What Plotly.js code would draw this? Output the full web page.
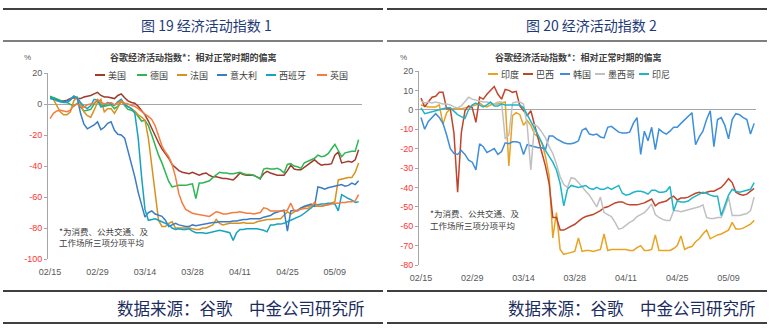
<!DOCTYPE html>
<html><head><meta charset="utf-8">
<script src="https://cdn.plot.ly/plotly-3.0.1.min.js"></script>
<style>html,body{margin:0;padding:0;background:#fff}#chart{width:770px;height:333px}</style>
</head><body><div id="chart"></div>
<script>
// ---------- data ----------
const tickDays = [0, 14, 28, 42, 56, 70, 84];
const tickLabels = ['02/15', '02/29', '03/14', '03/28', '04/11', '04/25', '05/09'];
const leftYTicks = [20, 0, -20, -40, -60, -80, -100];
const rightYTicks = [20, 10, 0, -10, -20, -30, -40, -50, -60, -70, -80];

// left panel: 谷歌经济活动指数 1
const leftNames = ['美国', '德国', '法国', '意大利', '西班牙', '英国'];
const usa = [4,4,3,2,2,2.5,3.5,4,3.5,3.5, 4.5,5,5.5,6.5,7.5,5.5,4.5,4.5,4,3.5, 5.5,6.5,4,2,1,0.5,-1.5,-4,-7,-11,
  -16,-21,-25,-29,-32,-35,-39,-41,-43,-44, -44.5,-45,-44,-45,-46,-45,-44.5,-46,-47,-47, -47.5,-48,-48,-48.5,-49,-47,-44.5,-45.5,-46,-46,
  -46,-47,-48,-45,-43.5,-44.5,-45.5,-46,-46,-46, -43,-39.5,-42,-42.5,-42.5,-41,-39.5,-38,-36,-38, -39.5,-39,-39,-38.5,-33,-31,-38,-37.5,-37,-37.5, -36,-29.5];
const germany = [5,4,3,2,1.5,1,0,-1.5,0.5,-2, -4.5,-4,-3.5,0,2.5,-0.5,-1.5,-1,-0.5,-3, -1.5,2.5,-1,-3.5,-4,-5,-8,-11,-10.5,-14,
  -20,-27,-33,-38,-44,-50,-53.5,-53,-52.5,-52.5, -52.5,-52,-51.5,-61,-51,-51,-50,-49.5,-47.5,-46, -44,-44.5,-44.5,-45,-45,-44.5,-44,-45,-45.5,-45.5,
  -46,-47,-48.5,-42,-41.5,-42,-42,-41.5,-42.5,-44.5, -39,-38.5,-40,-40.5,-41.5,-38,-37,-36,-35,-33, -34,-33.5,-32,-29,-26,-30,-34,-31.5,-31,-30.5, -30.5,-23];
const france = [4,3,-1,-5,-7,-7,-5,2,4.5,0, -5,-7.5,-8.5,-4,1,3,-5,-3,-3,-6, -2,1.5,-0.5,-1.5,-3,-4.5,-7,-8.5,-10.5,-22,
  -40,-61,-75,-79,-79,-77,-76,-80,-80,-80, -80,-80,-80.5,-81,-81,-80,-80,-79,-78,-74.5, -77,-78,-77.5,-77,-77,-77,-77,-76.5,-77,-77,
  -77,-76,-75.5,-75,-74.5,-74.5,-74,-74,-74,-72, -69.5,-71,-69.5,-68.5,-67,-66.5,-66,-65.5,-66,-66, -66,-65.5,-65,-64,-63,-49,-48.5,-48,-47.5,-47.5, -44,-38];
const italy = [3.5,3,2.5,1.5,1.5,2,3,5,4,-6, -13,-16,-15,-13.5,-11.5,-16.5,-15,-12.5,-11.5,-17, -19.5,-20,-22,-30,-38,-47,-57,-65,-73,-70,
  -69,-71,-72,-72.5,-75,-79,-78,-77,-78,-78.5, -79,-79,-78,-78.5,-78,-78,-77.5,-77,-76.5,-76.5, -76,-76,-76,-76,-75.5,-75.5,-75,-74.5,-74.5,-74,
  -74,-74,-74,-73,-72.5,-72,-70.5,-69.5,-69,-68.5, -82,-69,-68.5,-69,-67,-66,-65,-64.5,-66,-53.5, -54,-55,-54,-53.5,-53,-52.5,-52,-53,-52.5,-51, -52,-49.5];
const spain = [4,3.5,2,1.5,1,1,2.5,5,4,1, -1.5,-3,-1,3,2.5,-2,-1,1,0,-1, 1.5,3,-0.5,-2,-3,-6,-22,-47,-68,-75,
  -74.5,-74,-75,-76,-77,-78,-80,-81,-80.5,-81, -81,-80.5,-82,-83,-83,-83,-83.5,-83,-82.5,-82, -81.5,-82,-82.5,-83,-88,-83,-81,-81,-80.5,-80.5,
  -80.5,-80.5,-81,-81.5,-82.5,-78,-78,-77.5,-77.5,-77, -76,-75,-74,-73.5,-72,-70.5,-69,-67,-65,-65, -64.5,-64.5,-64,-64,-64.5,-69,-58.5,-60,-61,-62, -63.5,-63];
const uk = [-9.5,-6,-4.5,-4,-4.5,-5,-4,-1,0,-1.5, -2,-0.5,0,0.5,3,1,0,0.5,1,-0.5, 0.5,2,0.5,0,-1,-1.5,-3,-5,-6.5,-8,
  -10,-14,-21,-27,-31,-34,-39,-47,-58,-64, -68,-69.5,-70.5,-71,-71.5,-72,-72,-72.5,-71,-69.5, -70,-71,-71,-70.5,-70,-70,-69.5,-70,-70.5,-70.5,
  -71,-70.5,-70,-67,-67.5,-69,-69,-69,-69,-69, -68.5,-64,-69,-68.5,-68,-67.5,-67.5,-66,-63.5,-66, -66,-65.5,-65,-64.5,-64,-64,-63.5,-63.5,-63,-63, -62.5,-58.5];

// right panel: 谷歌经济活动指数 2
const rightNames = ['印度', '巴西', '韩国', '墨西哥', '印尼'];
const india = [2.5,2,1.5,1.5,1.5,2.5,-7.5,-1.5,0.5,0.5, 0.5,0.5,1,1.5,2,2.5,3.5,2,1.5,2.5, 3,3,3.5,4,-29,-3,-1.5,-2.5,-8,-5.5,
  -8,-12.5,-14,-17,-24,-34,-66,-53,-72,-74.5, -74,-73.5,-73,-66,-73,-72.5,-72.5,-73,-72.5,-72, -64,-72.5,-72,-72,-72,-72,-72,-72.5,-72.5,-71,
  -70,-72.5,-72.5,-72,-64.5,-72.5,-72.5,-72.5,-72.5,-71.5, -70,-65,-72,-71,-70.5,-68,-66.5,-64,-62,-66.5, -65.5,-64.5,-64,-63,-62,-58,-61.5,-61.5,-61,-60, -59,-57];
const brazil = [6,1.5,4,6.5,7,9,9,0.5,0.5,-12, -42.5,-12,-0.5,2,1,-6.5,6.5,5.5,8,10, 12,8,5.5,10.5,10,9,9.5,2,-0.5,-3,
  -0.5,-8,-16,-22,-29,-38,-55.5,-55.5,-62,-62, -61,-60,-59,-57.5,-56,-55,-54.5,-54,-53,-52, -50.5,-50,-49,-48,-47.5,-47.5,-48.5,-49,-49,-49,
  -48.5,-48,-47,-46,-49.5,-48,-47.5,-47,-45.5,-44.5, -46.5,-45.5,-45.5,-45,-44,-43,-42.5,-43,-42.5,-42, -42,-41,-40,-38,-35.5,-37.5,-42.5,-43.5,-44,-43.5, -42,-40.5];
const korea = [-4,-10,-6,-4,-2,-4,-7,-13,-20,-22.5, -23,-21,-23,-26,-27,-31,-17.5,-19,-22,-21, -20,-23,-21.5,-17,-17.5,-16.5,-16.5,-17,-23,-18,
  -18.5,-19,-19.5,-19.5,-20.5,-13.5,-13.5,-15,-16,-17, -17.5,-17.5,-17,-16,-10.5,-9.5,-12.5,-13,-12.5,-14, -14.5,-9,-8.5,-10,-11.5,-12,-12,-11.5,-7,-4,
  -23,-11,-16,-9,-20.5,-10,-11.5,-12.5,-11,-9, -9,-7,-5,-3,-1.5,-18,-14,-11,-5,-0.5, -19,-5,-4,-8,-15,-5,-2,-2.5,-4,-5, -12.5,-7];
const mexico = [4.5,3.5,4,3.5,4,3.5,3,3,2.5,1.5, 1,2,4,6.5,5.5,5,4.5,4,4,3.5, 3,4,4,-15,-13,3.5,4,4,3,-8,
  -31,-7.5,-9,-11.5,-14.5,-19,-22.5,-28,-34.5,-38.5, -40,-35,-35.5,-37.5,-40,-42,-44,-47,-50,-45, -53,-54,-55,-58,-61.5,-61,-59.5,-58,-57,-55,
  -54,-53,-51,-48.5,-54,-55.5,-56.5,-57,-57,-52, -52,-52.5,-52,-51.5,-51,-50.5,-50,-49,-55.5,-56, -56,-55.5,-55.5,-51,-45,-54.5,-54.5,-54.5,-54,-53.5, -52,-45];
const indonesia = [1,-2,-1.5,-1,-0.5,0,0.5,1,1,-1, -2.5,-3.5,-4.5,0,2.5,3.5,2.5,1.5,2.5,4, 2,2,3,2.5,2.5,2.5,2.5,2.5,1,-2.5,
  -5.5,-9,-13,-17,-21,-24,-27,-31,-38,-49.5, -41,-39,-39.5,-40,-39.5,-39,-40.5,-41,-40,-41, -41,-40,-41,-40,-39,-43,-44,-43.5,-42.5,-42,
  -42,-42.5,-43.5,-41.5,-41.5,-42.5,-42.5,-42,-39.5,-52, -47,-47.5,-47.5,-47,-45.5,-44.5,-43.5,-42.5,-43,-44, -44.5,-44.5,-54.5,-49,-44,-41,-42,-42.5,-42,-41.5, -41,-37.5];

// ---------- styling ----------
const leftSeries = [usa, germany, france, italy, spain, uk];
const leftColors = ['#A23A2C', '#2DB652', '#D6921F', '#3B7CC6', '#17A3C0', '#F47C3E'];
const rightSeries = [india, brazil, korea, mexico, indonesia];
const rightColors = ['#E9A221', '#C0452B', '#3D8EDB', '#C0C0C0', '#1EB5C8'];

const W = 770, H = 333;
const P = px => px / W;
const Q = py => 1 - py / H;
const cjk = '"Noto Sans CJK SC", sans-serif';
const latin = '"Liberation Sans", Arial, sans-serif';

const traces = [];
leftSeries.forEach((s, i) => traces.push({
  x: s.map((_, k) => k), y: s, type: 'scatter', mode: 'lines', name: leftNames[i],
  xaxis: 'x', yaxis: 'y', line: {color: leftColors[i], width: 1.5}, hoverinfo: 'skip'
}));
rightSeries.forEach((s, i) => traces.push({
  x: s.map((_, k) => k), y: s, type: 'scatter', mode: 'lines', name: rightNames[i],
  xaxis: 'x2', yaxis: 'y2', line: {color: rightColors[i], width: 1.5}, hoverinfo: 'skip'
}));

const yText = v => v < 0 ? `<span style="color:#FF3333">${v}</span>` : `${v}`;
const tickFont = {family: latin, size: 9, color: '#595959'};
const xAxisBase = {
  tickvals: tickDays, ticktext: tickLabels, showgrid: false, zeroline: false, showline: false,
  ticks: 'outside', ticklen: 4, tickcolor: 'rgba(0,0,0,0)', tickfont: tickFont, fixedrange: true
};
const yAxisBase = {
  showgrid: false, zeroline: true, zerolinecolor: '#A6A6A6', zerolinewidth: 1,
  showline: true, linecolor: '#A6A6A6', linewidth: 1, ticks: 'outside', ticklen: 3,
  tickcolor: '#A6A6A6', tickfont: tickFont, fixedrange: true
};

const shapes = [];
const rule = (x0, x1, y, w) => shapes.push({type: 'line', xref: 'paper', yref: 'paper',
  x0: P(x0), x1: P(x1), y0: Q(y), y1: Q(y), line: {color: '#000', width: w}});
rule(3, 383, 9, 1.6); rule(387, 767, 9, 1.6);
rule(3, 383, 41, 1.2); rule(387, 767, 41, 1.2);
rule(3, 383, 291, 1.3); rule(387, 767, 291, 1.3);
rule(3, 383, 323, 1.3); rule(387, 767, 323, 1.3);

const annotations = [];
const note = (text, x, y, font, xanchor) => annotations.push({text, x: P(x), y: Q(y), xref: 'paper', yref: 'paper',
  xanchor: xanchor || 'center', yanchor: 'middle', showarrow: false, font, align: 'left'});

// panel titles and sources
const titleFont = {family: cjk, size: 14, color: '#1F3A78'};
note('图 19 经济活动指数 1', 207, 25, titleFont);
note('图 20 经济活动指数 2', 591, 25, titleFont);
const srcFont = {family: cjk, size: 16.5, color: '#1B2C5E'};
note('数据来源：谷歌　中金公司研究所', 367, 308, srcFont, 'right');
note('数据来源：谷歌　中金公司研究所', 758, 308, srcFont, 'right');

// chart titles
const chartTitleFont = {family: cjk, size: 9, color: '#404040', weight: 'bold'};
note('<b>谷歌经济活动指数*：相对正常时期的偏离</b>', 194, 57, chartTitleFont);
note('<b>谷歌经济活动指数*：相对正常时期的偏离</b>', 578, 57, chartTitleFont);
const pctFont = {family: latin, size: 8, color: '#595959'};
note('%', 27, 58, pctFont);
note('%', 404, 58, pctFont);

// footnotes
const fnFont = {family: cjk, size: 8.5, color: '#404040'};
note('*为消费、公共交通、及', 57, 231, fnFont, 'left');
note('工作场所三项分项平均', 57, 242, fnFont, 'left');
note('*为消费、公共交通、及', 428, 213, fnFont, 'left');
note('工作场所三项分项平均', 428, 225, fnFont, 'left');

// legends (keys drawn as short lines)
const legFont = {family: cjk, size: 9, color: '#404040'};
const leftLegX = [95, 137, 177, 217, 266, 317];
const rightLegX = [488, 523, 560, 595, 639];
leftNames.forEach((n, i) => {
  shapes.push({type: 'line', xref: 'paper', yref: 'paper', x0: P(leftLegX[i]), x1: P(leftLegX[i] + 10),
    y0: Q(75), y1: Q(75), line: {color: leftColors[i], width: 2}});
  note(n, leftLegX[i] + 11, 75, legFont, 'left');
});
rightNames.forEach((n, i) => {
  shapes.push({type: 'line', xref: 'paper', yref: 'paper', x0: P(rightLegX[i]), x1: P(rightLegX[i] + 10),
    y0: Q(74), y1: Q(74), line: {color: rightColors[i], width: 2}});
  note(n, rightLegX[i] + 11, 74, legFont, 'left');
});

const layout = {
  width: W, height: H, margin: {l: 0, r: 0, t: 0, b: 0},
  paper_bgcolor: '#fff', plot_bgcolor: 'rgba(0,0,0,0)', showlegend: false,
  xaxis: Object.assign({}, xAxisBase, {domain: [P(48), P(362)], range: [-0.6, 92], anchor: 'y'}),
  yaxis: Object.assign({}, yAxisBase, {domain: [Q(259), Q(73)], range: [-100, 20], anchor: 'x',
    tickvals: leftYTicks, ticktext: leftYTicks.map(yText)}),
  xaxis2: Object.assign({}, xAxisBase, {domain: [P(419), P(756)], range: [-0.55, 91.5], anchor: 'y2'}),
  yaxis2: Object.assign({}, yAxisBase, {domain: [Q(265), Q(71)], range: [-80, 20], anchor: 'x2',
    tickvals: rightYTicks, ticktext: rightYTicks.map(yText)}),
  shapes, annotations
};

Plotly.newPlot('chart', traces, layout, {displayModeBar: false, staticPlot: true});
</script>
</body></html>
